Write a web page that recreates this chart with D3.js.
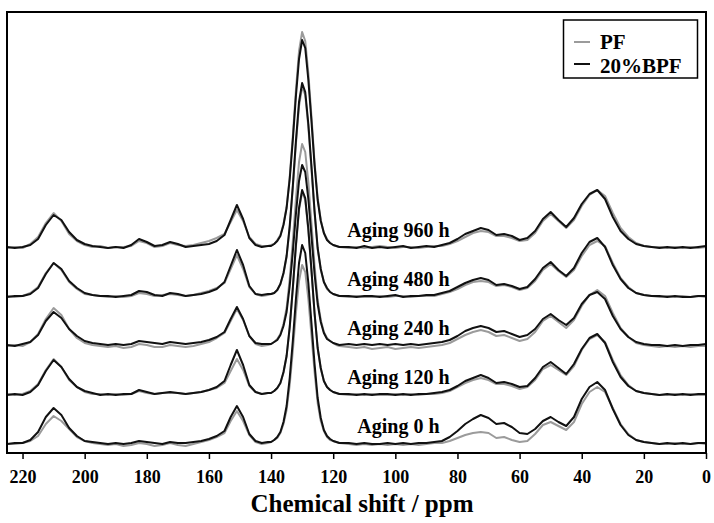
<!DOCTYPE html>
<html>
<head>
<meta charset="utf-8">
<script src="https://cdn.jsdelivr.net/npm/d3@7"></script>
<style>
  html, body { margin: 0; padding: 0; background: #fff; }
  svg { display: block; }
  text { font-family: "Times New Roman", "Liberation Serif", serif; font-weight: bold; fill: #000; }
</style>
</head>
<body>
<svg id="chart" width="714" height="523"></svg>
<script>
// ---- data -------------------------------------------------------------
const ppm = [
  225,222.5,220,217.5,215,212.5,210,207.5,205,202.5,200,197.5,195,192.5,190,187.5,185,182.5,180,177.5,
  175,172.5,170,167.5,165,162.5,160,157.5,155,153,151,149,147,145,143,141,
  140,139,138,137,136,135,134,133,132,131,130,129,128,127,126,125,124,123,122,121,120,119,118,
  115,112.5,110,107.5,105,102.5,100,97.5,95,92.5,90,87.5,85,82.5,80,77.5,75,72.5,70,67.5,
  65,62.5,60,57.5,55,52.5,50,47.5,45,42.5,40,37.5,35,32.5,30,27.5,25,22.5,20,17.5,15,12.5,10,7.5,5,2.5,0
];

const stageLabels = ["Aging 0 h", "Aging 120 h", "Aging 240 h", "Aging 480 h", "Aging 960 h"];
const stageOffsets = [9, 58, 107, 156, 205];
const seriesNames = ["PF", "20%BPF"];
const xTicks = [220, 200, 180, 160, 140, 120, 100, 80, 60, 40, 20, 0];

const pf0 = [
  0,0,1,3,8,20,28,23,15,7,3,1,0,-1,0,-2,-1,1,0,-2,-1,1,-1,-2,0,2,4,7,11,23,33,23,9,2,0,1,
  2,4,6,11,20,34,59,93,131,163,179,172,145,109,72,41,23,13,7,4,3,2,1,
  0,-1,0,-1,0,-1,0,-1,0,-1,0,1,1,3,6,9,11,12,11,6,7,4,2,3,10,19,22,18,14,22,40,52,57,52,36,20,10,4,2,1,0,0,1,0,0,1,0
];
const bpf0 = [
  0,1,1,4,12,27,36,29,16,8,3,2,1,0,1,0,1,3,2,1,0,2,1,1,2,3,5,8,13,27,38,27,10,3,1,2,
  2,4,7,12,22,38,66,103,145,181,199,191,161,121,80,46,26,14,8,5,3,2,1,
  1,0,1,0,0,1,0,1,0,1,1,2,3,7,13,20,25,29,26,20,21,17,11,10,15,23,27,22,18,27,45,57,62,54,35,19,9,4,2,1,0,1,0,1,0,1,1
];
const pf120 = [
  1,0,1,4,11,25,36,28,15,8,3,1,1,0,1,0,1,4,2,1,2,2,2,1,2,3,5,7,12,24,36,25,9,3,1,2,
  2,4,7,12,22,39,67,106,148,185,203,195,164,124,81,47,26,14,8,5,3,2,1,
  0,1,0,1,0,0,1,0,1,0,1,1,2,4,8,12,15,17,15,11,11,9,6,8,15,26,30,25,20,29,45,56,60,53,35,20,10,4,2,1,0,0,1,0,1,0,0
];
const bpf120 = [
  0,1,0,3,10,24,35,28,16,8,4,2,0,1,0,1,1,5,3,1,2,3,2,1,2,3,5,8,14,30,45,30,10,3,1,2,
  2,4,7,12,23,39,68,107,150,187,205,197,166,125,82,47,27,14,8,5,3,2,1,
  1,0,1,0,1,1,0,1,0,1,1,2,3,5,9,14,17,20,17,12,13,11,8,9,17,28,33,27,21,31,46,57,61,52,33,18,9,4,2,1,0,1,0,1,0,1,1
];
const pf240 = [
  0,1,0,4,12,27,38,31,17,8,3,1,0,-1,0,-2,-1,2,1,-1,-1,1,0,-1,0,2,4,8,13,25,37,26,10,2,0,1,
  2,4,7,12,22,38,67,105,147,184,202,194,164,123,81,46,26,14,8,5,3,1,0,
  -1,-2,-1,-3,-2,-1,-3,-2,-1,-2,-1,0,1,3,7,11,14,16,14,10,11,8,5,7,14,25,30,24,18,26,40,51,56,50,33,18,9,3,1,0,-1,0,-1,0,-1,0,0
];
const bpf240 = [
  1,0,2,4,11,25,34,28,17,10,5,3,2,1,2,1,2,5,4,3,2,4,3,2,3,4,6,9,14,27,39,27,10,3,2,2,
  2,4,6,11,20,34,60,94,132,165,181,174,147,110,72,42,24,13,7,5,3,2,1,
  2,1,2,1,2,1,2,1,2,1,2,3,4,6,10,15,18,20,18,14,15,12,9,11,17,27,32,26,21,28,42,51,54,47,30,17,9,4,2,1,1,0,1,0,1,1,2
];
const pf480 = [
  1,0,1,4,10,24,34,27,15,8,3,2,1,0,1,0,1,4,3,1,2,3,2,1,2,4,6,9,14,28,42,28,10,3,1,2,
  3,4,7,13,23,40,69,109,153,191,210,202,170,128,84,48,27,15,8,5,3,2,1,
  0,1,0,0,1,0,1,1,0,1,1,1,3,5,8,12,15,16,15,11,12,10,7,9,16,27,33,26,20,27,41,52,56,51,34,19,10,4,2,1,0,1,0,1,0,1,0
];
const bpf480 = [
  0,1,1,3,9,23,34,28,16,9,4,2,1,1,0,1,2,6,5,2,1,4,3,1,2,3,5,8,15,31,47,32,11,3,2,3,
  3,4,7,13,24,41,71,111,156,195,214,205,173,131,86,49,28,15,9,5,3,2,1,
  1,0,1,1,0,1,2,0,1,1,2,2,4,6,10,14,17,19,17,12,13,11,8,10,18,29,35,27,21,29,44,55,59,50,32,18,9,4,2,1,1,0,1,0,0,1,1
];
const pf960 = [
  0,1,0,4,11,25,35,27,14,7,3,1,2,0,1,1,2,7,5,1,2,5,3,2,3,5,7,10,14,26,38,27,11,4,2,2,
  3,4,8,13,24,41,71,112,158,197,216,207,175,132,86,50,28,15,9,5,3,2,1,
  0,1,0,1,2,1,0,1,1,0,1,2,2,4,7,11,15,17,16,12,12,10,7,8,15,27,34,27,20,28,42,53,58,52,35,20,11,5,2,1,1,0,1,0,1,0,1
];
const bpf960 = [
  1,0,1,3,9,23,33,28,16,8,4,2,1,0,1,0,3,9,6,2,3,6,4,1,2,3,4,7,13,28,43,29,10,3,1,2,
  2,4,7,12,23,40,69,108,152,189,208,200,168,127,83,48,27,15,8,5,3,2,1,
  1,0,2,0,1,0,1,2,0,1,2,1,3,5,9,14,17,20,18,13,14,12,8,10,17,29,36,28,21,30,44,54,58,49,31,17,9,4,2,1,0,1,0,1,0,1,2
];

const pfSeries  = [pf0, pf120, pf240, pf480, pf960];
const bpfSeries = [bpf0, bpf120, bpf240, bpf480, bpf960];

[...pfSeries, ...bpfSeries].forEach((s, i) => {
  if (s.length !== ppm.length) throw new Error("series " + i + " length " + s.length + " != " + ppm.length);
});

// ---- chart ------------------------------------------------------------
const W = 714, H = 523;
const plot = { left: 7, right: 706, top: 12, bottom: 453 };
const svg = d3.select("#chart");
svg.append("rect").attr("width", W).attr("height", H).attr("fill", "#fff");

const x = d3.scaleLinear().domain([225, 0]).range([plot.left, plot.right]);
const y = d3.scaleLinear().domain([0, 441]).range([plot.bottom, plot.top]);

svg.append("clipPath").attr("id", "clip")
  .append("rect").attr("x", plot.left).attr("y", plot.top)
  .attr("width", plot.right - plot.left).attr("height", plot.bottom - plot.top);

const g = svg.append("g").attr("clip-path", "url(#clip)");

function lineFor(offset) {
  return d3.line()
    .x((d, i) => x(ppm[i]))
    .y(d => y(d + offset))
    .curve(d3.curveLinear);
}

const colors = { PF: "#9b9b9b", BPF: "#111" };

pfSeries.forEach((s, k) => {
  g.append("path").datum(s)
    .attr("d", lineFor(stageOffsets[k]))
    .attr("fill", "none").attr("stroke", colors.PF)
    .attr("stroke-width", 2).attr("stroke-linejoin", "round");
});
bpfSeries.forEach((s, k) => {
  g.append("path").datum(s)
    .attr("d", lineFor(stageOffsets[k]))
    .attr("fill", "none").attr("stroke", colors.BPF)
    .attr("stroke-width", 2).attr("stroke-linejoin", "round");
});

// stage labels
stageLabels.forEach((lab, k) => {
  svg.append("text")
    .attr("x", x(99))
    .attr("y", y(stageOffsets[k] + 11))
    .attr("text-anchor", "middle")
    .attr("font-size", 20)
    .text(lab);
});

// x axis
const xAxis = d3.axisBottom(x).tickValues(xTicks).tickSize(6).tickSizeOuter(0).tickPadding(11)
  .tickFormat(d3.format("d"));
const ax = svg.append("g").attr("transform", `translate(0,${plot.bottom})`).call(xAxis);
ax.select(".domain").remove();
ax.selectAll(".tick line").attr("stroke", "#000").attr("stroke-width", 1.5);
ax.selectAll(".tick text")
  .attr("font-size", 18)
  .attr("font-family", "'Times New Roman', 'Liberation Serif', serif")
  .attr("font-weight", "bold")
  .attr("fill", "#000");

// frame
svg.append("rect")
  .attr("x", plot.left).attr("y", plot.top)
  .attr("width", plot.right - plot.left).attr("height", plot.bottom - plot.top)
  .attr("fill", "none").attr("stroke", "#000").attr("stroke-width", 2);

// axis title
svg.append("text")
  .attr("x", 362).attr("y", 512)
  .attr("text-anchor", "middle")
  .attr("font-size", 25)
  .text("Chemical shift / ppm");

// legend
const lg = svg.append("g");
lg.append("rect").attr("x", 563.5).attr("y", 20).attr("width", 134).attr("height", 58)
  .attr("fill", "#fff").attr("stroke", "#000").attr("stroke-width", 1.5);
const legendItems = [
  { name: seriesNames[0], color: colors.PF, ly: 42, ty: 48.5 },
  { name: seriesNames[1], color: colors.BPF, ly: 64, ty: 72.5 }
];
legendItems.forEach(it => {
  lg.append("line").attr("x1", 574).attr("x2", 590).attr("y1", it.ly).attr("y2", it.ly)
    .attr("stroke", it.color).attr("stroke-width", 2);
  lg.append("text").attr("x", 600).attr("y", it.ty).attr("font-size", 21).text(it.name);
});
</script>
</body>
</html>
